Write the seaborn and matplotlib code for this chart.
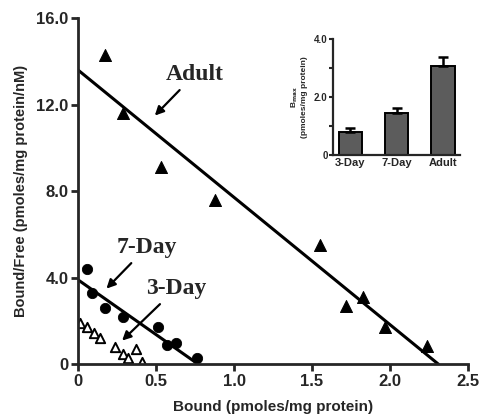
import numpy as np
import pandas as pd
import matplotlib
matplotlib.use("Agg")
import matplotlib.pyplot as plt
import seaborn as sns

# ==========================
# Data
# ==========================

adult_bound = [0.17, 0.29, 0.53, 0.88, 1.55, 1.72, 1.83, 1.97, 2.24]
adult_bf = [14.3, 11.6, 9.1, 7.6, 5.5, 2.7, 3.1, 1.7, 0.85]

day7_bound = [0.06, 0.09, 0.17, 0.29, 0.51, 0.57, 0.63, 0.76]
day7_bf = [4.4, 3.3, 2.6, 2.2, 1.7, 0.9, 1.0, 0.3]

day3_bound = [0.01, 0.06, 0.10, 0.14, 0.24, 0.29, 0.32, 0.37, 0.41]
day3_bf = [1.9, 1.7, 1.45, 1.2, 0.8, 0.45, 0.3, 0.7, 0.1]

# fitted lines: (x at y-axis, x-intercept) and (y-intercept, 0)
adult_fit_x = [0.0, 2.31]
adult_fit_y = [13.6, 0.0]
day7_fit_x = [0.0, 0.77]
day7_fit_y = [3.9, 0.0]

# inset: Bmax
groups = ["3-Day", "7-Day", "Adult"]
bmax = [0.8, 1.45, 3.07]
bmax_err = [0.13, 0.17, 0.31]

# ==========================
# Figure
# ==========================

sns.set_style("ticks")
plt.rcParams['font.family'] = ['Liberation Sans', 'DejaVu Sans']
plt.rcParams['font.weight'] = 'bold'

fig = plt.figure(figsize=(4.8, 4.2), dpi=100)
ax = fig.add_axes([0.1625, 0.133, 0.8125, 0.824])

sns.lineplot(x=adult_fit_x, y=adult_fit_y, color="black", lw=2.2, ax=ax)
sns.lineplot(x=day7_fit_x, y=day7_fit_y, color="black", lw=2.2, ax=ax)

sns.scatterplot(x=adult_bound, y=adult_bf, marker="^", s=75, color="black",
                edgecolor="black", ax=ax)
sns.scatterplot(x=day7_bound, y=day7_bf, marker="o", s=55, color="black",
                edgecolor="black", ax=ax)
sns.scatterplot(x=day3_bound, y=day3_bf, marker="^", s=45, facecolor="white",
                edgecolor="black", linewidth=1.4, ax=ax)

ax.set_xlim(0, 2.5)
ax.set_ylim(0, 16)
ax.set_xticks([0, 0.5, 1.0, 1.5, 2.0, 2.5])
ax.set_xticklabels(["0", "0.5", "1.0", "1.5", "2.0", "2.5"])
ax.set_yticks([0, 4, 8, 12, 16])
ax.set_yticklabels(["0", "4.0", "8.0", "12.0", "16.0"])
ax.tick_params(width=2, length=5, labelsize=12, pad=2)
for lab in ax.get_xticklabels() + ax.get_yticklabels():
    lab.set_fontweight("heavy")
sns.despine(ax=ax)
ax.spines["left"].set_linewidth(2)
ax.spines["bottom"].set_linewidth(2)

ax.set_xlabel("Bound (pmoles/mg protein)", fontsize=11, fontweight="heavy", labelpad=8)
ax.set_ylabel("Bound/Free (pmoles/mg protein/nM)", fontsize=10.5, fontweight="heavy",
              labelpad=6)

# annotations
serif = ['Liberation Serif', 'DejaVu Serif']
arrow = dict(arrowstyle="-|>", color="black", lw=1.6, mutation_scale=13)
ax.annotate("Adult", xy=(0.48, 11.4), xytext=(0.75, 13.4), ha="center", va="center",
            fontsize=17, fontweight="bold", family=serif, arrowprops=arrow)
ax.annotate("7-Day", xy=(0.17, 3.4), xytext=(0.44, 5.4), ha="center", va="center",
            fontsize=17, fontweight="bold", family=serif, arrowprops=arrow)
ax.annotate("3-Day", xy=(0.27, 1.0), xytext=(0.63, 3.5), ha="center", va="center",
            fontsize=17, fontweight="bold", family=serif, arrowprops=arrow)

# ==========================
# Inset
# ==========================

ins = fig.add_axes([0.694, 0.631, 0.265, 0.276])
inset_df = pd.DataFrame({"group": groups, "bmax": bmax})
sns.barplot(data=inset_df, x="group", y="bmax", color="#5c5c5c", edgecolor="black",
            linewidth=1.4, width=0.5, errorbar=None, ax=ins)
ins.errorbar(range(len(groups)), bmax, yerr=[[0] * len(groups), bmax_err], fmt="none",
             ecolor="black", elinewidth=1.8, capsize=3.5, capthick=1.8)
ins.set_ylim(0, 4)
ins.set_yticks([0, 1, 2, 3, 4])
ins.set_yticklabels(["0", "", "2.0", "", "4.0"])
ins.tick_params(width=1.5, length=3, labelsize=7, pad=1)
ins.tick_params(axis="x", length=0, labelsize=8, pad=2)
for lab in ins.get_xticklabels() + ins.get_yticklabels():
    lab.set_fontweight("heavy")
sns.despine(ax=ins)
ins.spines["left"].set_linewidth(1.6)
ins.spines["bottom"].set_linewidth(1.6)
ins.set_xlabel("")
ins.set_ylabel("B$_{\\mathbf{max}}$\n(pmoles/mg protein)", fontsize=6, fontweight="heavy",
               labelpad=4)

plt.savefig("out.png", dpi=100)
